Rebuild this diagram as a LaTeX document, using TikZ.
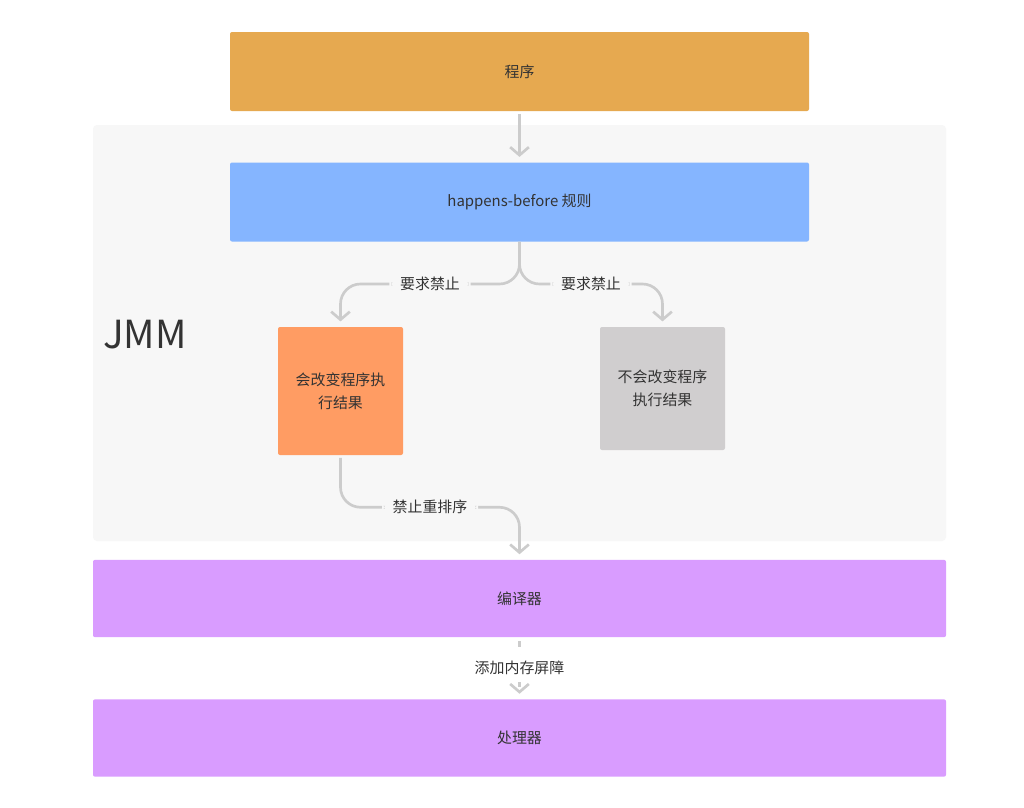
\documentclass[tikz,border=0pt]{standalone}
\usepackage{fontspec}
\setmainfont{Noto Sans CJK SC}
\usetikzlibrary{arrows.meta}

\definecolor{progcol}{HTML}{E6A950}
\definecolor{rulecol}{HTML}{85B5FF}
\definecolor{changecol}{HTML}{FF9C63}
\definecolor{keepcol}{HTML}{D0CECF}
\definecolor{hwcol}{HTML}{D99CFF}
\definecolor{jmmcol}{HTML}{F7F7F7}
\definecolor{linecol}{HTML}{CCCCCC}
\definecolor{textcol}{HTML}{333333}

\begin{document}
\begin{tikzpicture}[x=0.75pt, y=-0.75pt,
    box/.style ={rounded corners=1.5pt, inner sep=0pt, text=textcol, align=center,
                 font=\fontsize{11.2}{17.2}\selectfont},
    widebox/.style ={box, minimum width=434.25pt, minimum height=59.25pt},
    fullbox/.style ={box, minimum width=639.75pt, minimum height=58pt, fill=hwcol},
    smallbox/.style ={box, minimum width=93.75pt},
    link/.style ={draw=linecol, line width=2pt, rounded corners=15pt,
                  -{Straight Barb[length=6pt, width=14pt]}},
    linklabel/.style ={fill=jmmcol, text=textcol, inner xsep=8pt, inner ysep=3pt,
                       font=\fontsize{11.2}{12}\selectfont}]
   \useasboundingbox[fill=white] (0,0) rectangle (1024,807);

   \node[rounded corners=3pt, fill=jmmcol, minimum width=639.75pt, minimum height=312pt] (jmm) at (519.5,333) {};
   \node[text=textcol, font=\fontsize{29}{29}\selectfont] (jmmname) at (145,335) {JMM};

   \node[widebox, fill=progcol] (prog) at (519.5,71.5) {程序};
   \node[widebox, fill=rulecol] (rule) at (519.5,202) {happens-before 规则};
   \node[smallbox, fill=changecol, minimum height=96pt] (change) at (340.5,391) {会改变程序执\\行结果};
   \node[smallbox, fill=keepcol, minimum height=92.25pt] (keep) at (662.5,388.5) {不会改变程序\\执行结果};
   \node[fullbox] (comp) at (519.5,598.5) {编译器};
   \node[fullbox] (cpu) at (519.5,738) {处理器};
   \coordinate (split) at (519.5,284);

   \draw[link, shorten <=2pt, shorten >=4pt] (prog) to (rule);

   \draw[link, shorten >=4pt] (rule.south) -- (split) -| node[linklabel, pos=0.25] {要求禁止} (change.north);
   \draw[link, shorten >=4pt] (rule.south) -- (split) -| node[linklabel, pos=0.25] {要求禁止} (keep.north);

   \draw[link, shorten <=2pt, shorten >=4pt] (change.south) -- ++(0,52) -| node[linklabel, pos=0.25] {禁止重排序} (comp.north);

   \draw[link, dash pattern=on 4pt off 6pt, shorten <=3pt, shorten >=4pt] (comp) -- node[linklabel, fill=white, inner ysep=5pt] {添加内存屏障} (cpu);

 \end{tikzpicture}
\end{document}
